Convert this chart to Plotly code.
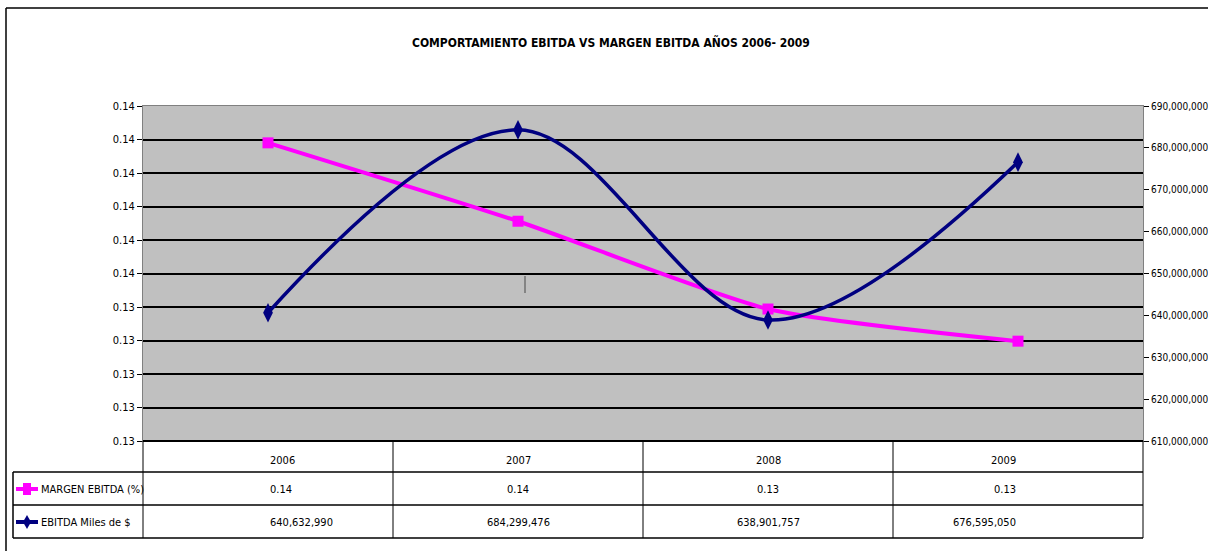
import plotly.graph_objects as go

# ---- data ----
years = ["2006", "2007", "2008", "2009"]
margen = [0.13695, 0.13578, 0.13447, 0.13399]
margen_labels = ["0.14", "0.14", "0.13", "0.13"]
ebitda = [640632990, 684299476, 638901757, 676595050]
ebitda_labels = ["640,632,990", "684,299,476", "638,901,757", "676,595,050"]
left_tick_vals = [0.1325 + 0.0005 * i for i in range(11)]
left_tick_labels = ["0.13"] * 5 + ["0.14"] * 6
right_range = [610000000, 690000000]
series_names = ["MARGEN EBITDA (%)", "EBITDA Miles de $"]
title_text = "COMPORTAMIENTO EBITDA VS MARGEN EBITDA AÑOS 2006- 2009"

FONT = "DejaVu Sans Condensed, Liberation Sans Narrow, Arial Narrow, sans-serif"
MAG = "#FF00FF"
NAVY = "#000080"

W, H = 1208, 551
L, R, T, B = 143, 1143, 106, 441  # plot area in px


def px(x):
    return (x - L) / (R - L)


def py(y):
    return (B - y) / (B - T)


fig = go.Figure()
fig.add_trace(go.Scatter(
    x=years, y=margen, name=series_names[0], mode="lines+markers",
    line=dict(color=MAG, width=4, shape="spline", smoothing=0.6),
    marker=dict(symbol="square", size=11, color=MAG), yaxis="y"))
fig.add_trace(go.Scatter(
    x=years, y=ebitda, name=series_names[1], mode="lines+markers",
    line=dict(color=NAVY, width=3.5, shape="spline", smoothing=1.0),
    marker=dict(symbol="diamond-tall", size=14, color=NAVY), yaxis="y2"))

shapes = []
annotations = []

# bottom axis line
shapes.append(dict(type="line", xref="paper", yref="paper", x0=0, x1=1, y0=0, y1=0,
                   line=dict(color="black", width=2)))
# data table lines
for yv in [472, 505, 538]:
    shapes.append(dict(type="line", xref="paper", yref="paper", x0=px(13), x1=1,
                       y0=py(yv), y1=py(yv), line=dict(color="black", width=1.5)))
for i in range(len(years) + 1):
    xv = L + i * (R - L) / len(years)
    shapes.append(dict(type="line", xref="paper", yref="paper", x0=px(xv), x1=px(xv),
                       y0=py(441), y1=py(538), line=dict(color="black", width=1)))
shapes.append(dict(type="line", xref="paper", yref="paper", x0=px(13), x1=px(13),
                   y0=py(472), y1=py(538), line=dict(color="black", width=1.5)))
# outer chart border
shapes.append(dict(type="line", xref="paper", yref="paper", x0=px(6), x1=px(6),
                   y0=py(8), y1=py(560), line=dict(color="black", width=1.5)))
shapes.append(dict(type="line", xref="paper", yref="paper", x0=px(6), x1=px(1215),
                   y0=py(8), y1=py(8), line=dict(color="black", width=1.5)))
# stray mark in plot
shapes.append(dict(type="line", xref="paper", yref="paper", x0=px(525), x1=px(525),
                   y0=py(276), y1=py(293), line=dict(color="#707070", width=1.5)))
# legend keys in table
for yv, col, sym in [(489, MAG, "sq"), (522, NAVY, "dia")]:
    shapes.append(dict(type="line", xref="paper", yref="paper", x0=px(16), x1=px(38),
                       y0=py(yv), y1=py(yv), line=dict(color=col, width=4)))
    if sym == "sq":
        shapes.append(dict(type="rect", xref="paper", yref="paper", x0=px(23), x1=px(31),
                           y0=py(yv - 6), y1=py(yv + 6), fillcolor=col, line=dict(width=0)))
    else:
        shapes.append(dict(type="path", xref="paper", yref="paper",
                           path=f"M {px(27)} {py(yv-7)} L {px(31)} {py(yv)} L {px(27)} {py(yv+7)} L {px(23)} {py(yv)} Z",
                           fillcolor=col, line=dict(width=0)))

TF = dict(size=11, color="black", family=FONT)
for i, yr in enumerate(years):
    xc = L + (i + 0.5) * (R - L) / len(years)
    annotations.append(dict(x=px(xc), y=py(460), xref="paper", yref="paper", text=yr,
                            yanchor="middle", showarrow=False, font=TF))
    annotations.append(dict(x=px(xc), y=py(489), xref="paper", yref="paper", text=margen_labels[i],
                            yanchor="middle", showarrow=False, font=TF))
    annotations.append(dict(x=px(xc), y=py(522), xref="paper", yref="paper", text=ebitda_labels[i],
                            yanchor="middle", showarrow=False, font=TF))
for name, yv in zip(series_names, [489, 522]):
    annotations.append(dict(x=px(39), y=py(yv), xref="paper", yref="paper", text=name,
                            xanchor="left", yanchor="middle", showarrow=False, font=TF))

annotations.append(dict(x=px(611), y=py(42), xref="paper", yref="paper", text=f"<b>{title_text}</b>",
                        yanchor="middle", showarrow=False, font=dict(size=12, color="black", family=FONT)))

fig.update_layout(
    width=W, height=H,
    margin=dict(l=L, r=W - R, t=T, b=H - B, pad=0),
    paper_bgcolor="white", plot_bgcolor="#C0C0C0",
    showlegend=False,
    font=dict(family=FONT, size=11, color="black"),
    xaxis=dict(type="category", range=[-0.5, 3.5], showticklabels=False, showgrid=False,
               showline=True, mirror=True, linecolor="#808080", linewidth=1, ticks="", zeroline=False,
               automargin=False),
    yaxis=dict(range=[0.1325, 0.1375], tickvals=left_tick_vals, ticktext=left_tick_labels,
               ticks="outside", ticklen=5, tickcolor="black", showgrid=True, gridcolor="black",
               gridwidth=1.5, showline=True, mirror=True, linecolor="#808080", linewidth=1,
               zeroline=False, tickfont=dict(size=11, family=FONT), automargin=False),
    yaxis2=dict(range=right_range, dtick=10000000, tickformat=",d", overlaying="y", side="right",
                ticks="outside", ticklen=5, tickcolor="black", showgrid=False, zeroline=False,
                showline=False, tickfont=dict(size=10, family=FONT), automargin=False),
    shapes=shapes, annotations=annotations,
)

fig.write_html("out.html", config={"displayModeBar": False},
               post_script="document.body.style.margin='0';document.documentElement.style.overflow='hidden';document.body.style.overflow='hidden';")
